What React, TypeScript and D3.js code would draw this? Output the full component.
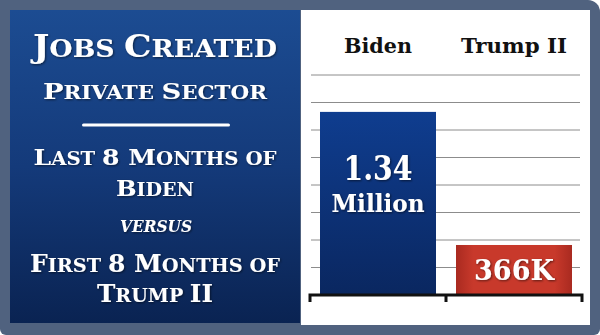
import React from "react";
import * as d3 from "d3";

const categories = ["Biden", "Trump II"];
const values = [1340, 366]; // thousands of jobs
const valueLabels = [["1.34", "Million"], ["366K"]];
const yMax = 1610;
const gridCount = 8;

const W = 600;
const H = 335;
const FONT = "'DejaVu Serif', Georgia, serif";

// Small-caps title lines: uppercase letters in the source text are drawn large,
// lowercase letters are drawn as small capitals.
const leftLines = [
  { text: "Jobs Created", y: 57, w: 244, big: 31, small: 24 },
  { text: "Private Sector", y: 99, w: 224, big: 23, small: 18 },
  { text: "Last 8 Months of", y: 165, w: 243, big: 23, small: 18 },
  { text: "Biden", y: 196, w: 78, big: 23, small: 18 },
  { text: "First 8 Months of", y: 272, w: 250, big: 24, small: 18.5 },
  { text: "Trump II", y: 302, w: 116, big: 24, small: 18.5 },
];

type Part = { t: string; big: boolean };
function smallCaps(s: string): Part[] {
  const parts: Part[] = [];
  for (const ch of s) {
    const big = !(ch >= "a" && ch <= "z");
    const last = parts[parts.length - 1];
    if (ch === " " && last) {
      last.t += ch;
      continue;
    }
    if (last && last.big === big) last.t += big ? ch : ch.toUpperCase();
    else parts.push({ t: big ? ch : ch.toUpperCase(), big });
  }
  return parts;
}

export default function App() {
  const x = d3
    .scaleBand<string>()
    .domain(categories)
    .range([310, 582])
    .paddingInner(20 / 136)
    .paddingOuter(10 / 136);
  const y = d3.scaleLinear().domain([0, yMax]).range([295, 75]);
  const grid = d3.range(1, gridCount + 1).map((i) => (i * yMax) / gridCount);
  const [r0, r1] = x.range();
  const step = x.step();
  const cx = (c: string) => (x(c) as number) + x.bandwidth() / 2;

  const framePath = `M0,0 H588 A12,12 0 0 1 600,12 V329 A6,6 0 0 1 594,335 H6 A6,6 0 0 1 0,329 Z`;

  return (
    <svg
      width={W}
      height={H}
      style={{ position: "fixed", left: 0, top: 0, background: "#fff" }}
    >
      <defs>
        <linearGradient id="leftBg" x1="0" y1="0" x2="0" y2="1">
          <stop offset="0" stopColor="#1c4c92" />
          <stop offset="0.5" stopColor="#143a7a" />
          <stop offset="1" stopColor="#0a2352" />
        </linearGradient>
        <linearGradient id="bidenBar" x1="0" y1="0" x2="0" y2="1">
          <stop offset="0" stopColor="#0f3d8f" />
          <stop offset="1" stopColor="#0a2760" />
        </linearGradient>
        <linearGradient id="trumpBar" x1="0" y1="0" x2="1" y2="0">
          <stop offset="0" stopColor="#a92a20" />
          <stop offset="0.15" stopColor="#c8392b" />
          <stop offset="0.85" stopColor="#c8392b" />
          <stop offset="1" stopColor="#a92a20" />
        </linearGradient>
        <filter id="ts" x="-10%" y="-10%" width="120%" height="130%">
          <feDropShadow dx="1" dy="1" stdDeviation="0.8" floodColor="#000" floodOpacity="0.55" />
        </filter>
      </defs>
      <path d={framePath} fill="#50627f" />
      <rect x={10} y={10} width={290} height={313} fill="url(#leftBg)" />
      <rect x={301} y={10} width={289} height={315} fill="#ffffff" />

      {/* left title */}
      <g fill="#ffffff" fontFamily={FONT} fontWeight="bold" filter="url(#ts)">
        {leftLines.map((l, i) => (
          <text
            key={i}
            x={155}
            y={l.y}
            textAnchor="middle"
            textLength={l.w}
            lengthAdjust="spacingAndGlyphs"
          >
            {smallCaps(l.text).map((p, j) => (
              <tspan key={j} fontSize={p.big ? l.big : l.small}>
                {p.t}
              </tspan>
            ))}
          </text>
        ))}
        <text
          x={156}
          y={232}
          textAnchor="middle"
          fontSize={16}
          fontStyle="italic"
          textLength={72}
          lengthAdjust="spacingAndGlyphs"
        >
          VERSUS
        </text>
      </g>
      <rect x={82} y={123.5} width={148} height={3} rx={1.5} fill="#ffffff" />

      {/* headers */}
      {categories.map((c, i) => (
        <text
          key={c}
          x={cx(c)}
          y={53}
          textAnchor="middle"
          fontFamily={FONT}
          fontWeight="bold"
          fontSize={21}
          fill="#111"
          textLength={i === 0 ? 68 : 106}
          lengthAdjust="spacingAndGlyphs"
        >
          {c}
        </text>
      ))}

      {/* gridlines */}
      {grid.map((g) => (
        <line key={g} x1={311} x2={580} y1={y(g)} y2={y(g)} stroke="#8c8c8c" strokeWidth={1} />
      ))}

      {/* bars */}
      {categories.map((c, i) => (
        <rect
          key={c}
          x={x(c)}
          y={y(values[i])}
          width={x.bandwidth()}
          height={y(0) - y(values[i])}
          fill={i === 0 ? "url(#bidenBar)" : "url(#trumpBar)"}
        />
      ))}

      {/* bar labels */}
      <g fill="#ffffff" fontFamily={FONT} fontWeight="bold" filter="url(#ts)" textAnchor="middle">
        <text x={cx(categories[0])} y={180} fontSize={33} textLength={69} lengthAdjust="spacingAndGlyphs">
          {valueLabels[0][0]}
        </text>
        <text x={cx(categories[0])} y={212} fontSize={25} textLength={93} lengthAdjust="spacingAndGlyphs">
          {valueLabels[0][1]}
        </text>
        <text x={cx(categories[1])} y={280} fontSize={27} textLength={80} lengthAdjust="spacingAndGlyphs">
          {valueLabels[1][0]}
        </text>
      </g>

      {/* baseline bracket */}
      <path
        d={`M${r0},${y(0) + 7} V${y(0)} H${r1} V${y(0) + 7} M${r0 + step},${y(0)} V${y(0) + 7}`}
        fill="none"
        stroke="#111"
        strokeWidth={3}
      />
    </svg>
  );
}
